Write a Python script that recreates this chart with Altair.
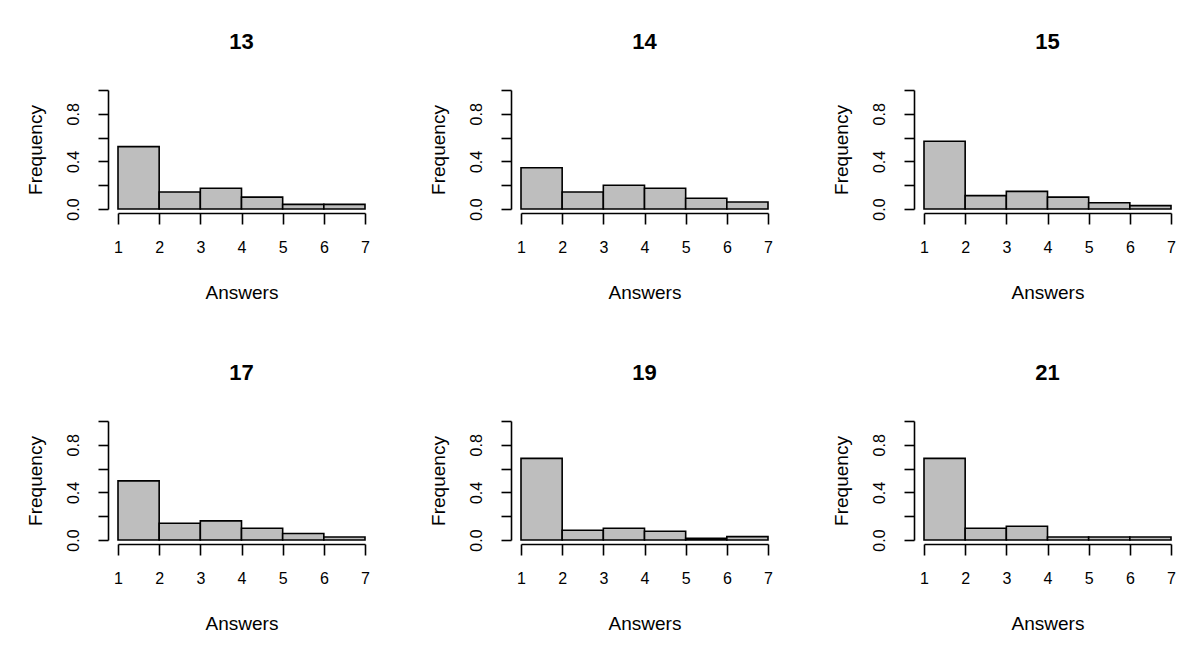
import altair as alt
import pandas as pd

panel_titles = ["13", "14", "15", "17", "19", "21"]
bin_starts = [1, 2, 3, 4, 5, 6]
bin_ends = [2, 3, 4, 5, 6, 7]

freq_13 = [0.524, 0.143, 0.174, 0.100, 0.039, 0.039]
freq_14 = [0.347, 0.143, 0.199, 0.174, 0.090, 0.059]
freq_15 = [0.569, 0.112, 0.148, 0.100, 0.053, 0.028]
freq_17 = [0.497, 0.141, 0.161, 0.099, 0.054, 0.025]
freq_19 = [0.686, 0.082, 0.099, 0.073, 0.014, 0.028]
freq_21 = [0.686, 0.099, 0.116, 0.025, 0.025, 0.025]

x_ticks = [1, 2, 3, 4, 5, 6, 7]
y_ticks = [0, 0.2, 0.4, 0.6, 0.8, 1.0]

all_freqs = [freq_13, freq_14, freq_15, freq_17, freq_19, freq_21]

FONT = "Liberation Sans"
PW, PH = 247, 119


def panel(title, freqs):
    df = pd.DataFrame({"start": bin_starts, "end": bin_ends, "freq": freqs,
                       "base": [0] * len(freqs)})
    return alt.Chart(df).mark_rect(
        fill="#BEBEBE", stroke="black", strokeWidth=1.6
    ).encode(
        x=alt.X("start:Q",
                scale=alt.Scale(domain=[1, 7], nice=False, zero=False),
                axis=alt.Axis(values=x_ticks, title="Answers", offset=4,
                              tickSize=11, labelPadding=23, labelBaseline="middle",
                              labelFlush=False, labelOverlap=False,
                              titleX=PW / 2, titleY=79, titleBaseline="middle",
                              titleAlign="center")),
        x2="end:Q",
        y=alt.Y("freq:Q",
                scale=alt.Scale(domain=[0, 1], nice=False),
                axis=alt.Axis(values=y_ticks, title="Frequency", offset=10,
                              tickSize=10, labelPadding=25,
                              labelExpr="(datum.value == 0 || datum.value == 0.4 || datum.value == 0.8) ? format(datum.value, '.1f') : ''",
                              labelAngle=270, labelAlign="center",
                              labelBaseline="middle", labelFlush=False,
                              labelOverlap=False,
                              titleAngle=270, titleX=-73, titleY=PH / 2,
                              titleAlign="center", titleBaseline="middle")),
        y2="base:Q",
    ).properties(
        width=PW, height=PH,
        title=alt.TitleParams(title, fontSize=22, fontWeight="bold", font=FONT,
                              anchor="middle", baseline="alphabetic", offset=18,
                              color="black"),
    )


panels = [panel(t, f) for t, f in zip(panel_titles, all_freqs)]

chart = alt.concat(*panels, columns=3, spacing={"row": 212, "column": 156}).properties(
    bounds="flush",
    padding={"left": 18, "top": 23, "right": 5, "bottom": 5},
    background="white",
).configure_view(stroke=None).configure_axis(
    grid=False, domainColor="black", domainWidth=1.6, tickColor="black",
    tickWidth=1.6, labelColor="black", titleColor="black", labelFont=FONT,
    titleFont=FONT, labelFontSize=16, titleFontSize=19, titleFontWeight="normal",
)

chart.save("out.html", embed_options={"renderer": "svg", "actions": False})
